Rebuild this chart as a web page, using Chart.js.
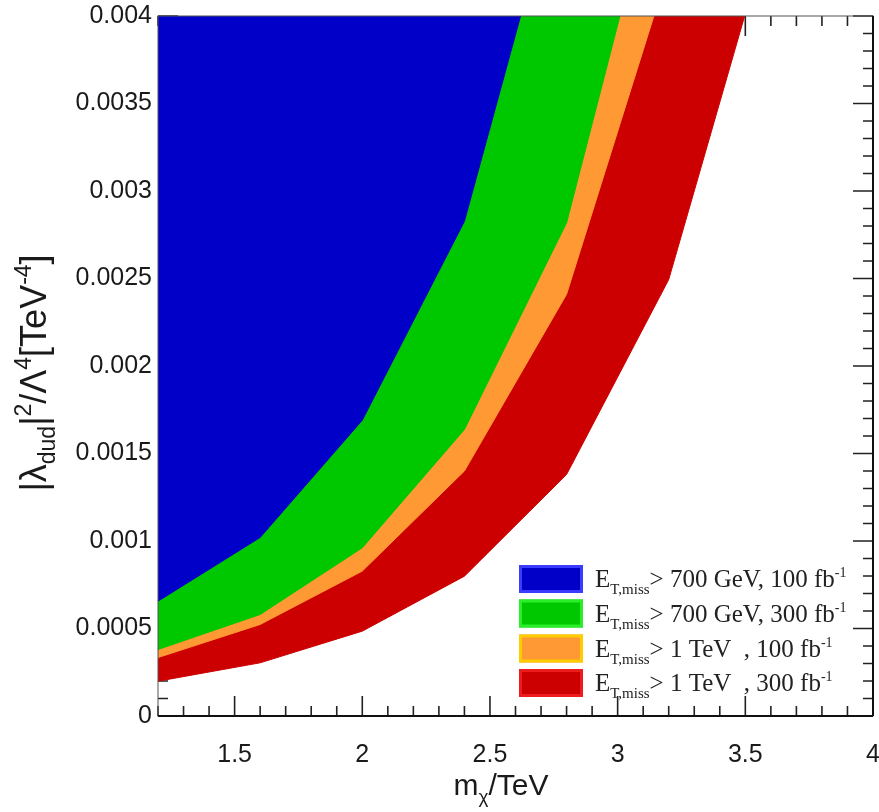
<!DOCTYPE html>
<html>
<head>
<meta charset="utf-8">
<script src="https://cdn.jsdelivr.net/npm/chart.js@4.4.1/dist/chart.umd.min.js"></script>
<style>
  html, body { margin: 0; padding: 0; background: #fff; }
  #wrap { width: 879px; height: 812px; position: relative; }
</style>
</head>
<body>
<div id="wrap"><canvas id="limitChart"></canvas></div>
<script>
// mass points (TeV) and sensitivity curves
const massTeV = [1.2, 1.6, 2.0, 2.4, 2.8, 3.2, 3.6];
const blue700_100 = [0.000656, 0.00102, 0.00169, 0.002827, 0.00496];
const green700_300 = [0.00038, 0.00058, 0.000961, 0.001637, 0.002818, 0.00508];
const orange1T_100 = [0.000334, 0.000523, 0.000828, 0.0014, 0.00241, 0.00427];
const red1T_300 = [0.000199, 0.000304, 0.000485, 0.000799, 0.00138, 0.002494, 0.00452];

const xRange = [1.2, 4];
const yRange = [0, 0.004];

const legendCuts = ['700 GeV, 100 fb', '700 GeV, 300 fb', '1 TeV  , 100 fb', '1 TeV  , 300 fb'];

const fillColors = ['rgb(0,0,200)', 'rgb(0,200,0)', 'rgb(255,153,51)', 'rgb(204,0,0)'];
const boxBorders = ['#3c3cff', '#2aee2a', '#ffcc00', '#ee1c1c'];

const tickFont = '"Liberation Sans", Arial, Helvetica, sans-serif';
const serifFont = '"Liberation Serif", "Times New Roman", serif';

function toPoints(values) {
    return values.map((v, i) => ({ x: massTeV[i], y: v }));
}

function bandDataset(label, values, color) {
    return {
        label: label,
        data: toPoints(values),
        backgroundColor: color,
        borderColor: color,
        borderWidth: 1,
        pointRadius: 0,
        tension: 0,
        fill: 'end'
    };
}

// inward ticks on all four sides, drawn under the filled bands
const frameTicks = {
    id: 'frameTicks',
    beforeDatasetsDraw(chart) {
        const { ctx, chartArea: a, scales: { x, y } } = chart;
        ctx.save();
        ctx.strokeStyle = '#222';
        ctx.lineWidth = 1.6;
        ctx.beginPath();
        for (let k = 12; k <= 40; k++) {
            const px = x.getPixelForValue(k / 10);
            const len = k % 5 === 0 ? 20 : 10;
            ctx.moveTo(px, a.bottom); ctx.lineTo(px, a.bottom - len);
            ctx.moveTo(px, a.top); ctx.lineTo(px, a.top + len);
        }
        for (let k = 0; k <= 40; k++) {
            const py = y.getPixelForValue(k / 10000);
            const len = k % 5 === 0 ? 20 : 10;
            ctx.moveTo(a.left, py); ctx.lineTo(a.left + len, py);
            ctx.moveTo(a.right, py); ctx.lineTo(a.right - len, py);
        }
        ctx.stroke();
        ctx.restore();
    },
    afterDatasetsDraw(chart) {
        const { ctx, chartArea: a } = chart;
        ctx.save();
        ctx.strokeStyle = '#555';
        ctx.lineWidth = 1;
        ctx.strokeRect(a.left, a.top, a.right - a.left, a.bottom - a.top);
        ctx.strokeStyle = '#111';
        ctx.lineWidth = 2;
        ctx.beginPath();
        ctx.moveTo(a.left, a.bottom); ctx.lineTo(a.right, a.bottom);
        ctx.moveTo(a.right, a.top); ctx.lineTo(a.right, a.bottom);
        ctx.stroke();
        ctx.restore();
    }
};

// draw a run of [text, size, shift] pieces, shift > 0 moves it down
function drawRich(ctx, parts, x, y, family) {
    let cx = x;
    parts.forEach(([txt, size, shift]) => {
        ctx.font = size + 'px ' + family;
        ctx.fillText(txt, cx, y + shift);
        cx += ctx.measureText(txt).width;
    });
    return cx;
}
function richWidth(ctx, parts, family) {
    let w = 0;
    parts.forEach(([txt, size]) => {
        ctx.font = size + 'px ' + family;
        w += ctx.measureText(txt).width;
    });
    return w;
}

const titlesAndLegend = {
    id: 'titlesAndLegend',
    afterDraw(chart) {
        const { ctx } = chart;
        ctx.save();
        ctx.fillStyle = '#1a1a1a';
        ctx.textBaseline = 'alphabetic';
        ctx.textAlign = 'left';

        // x title: m_chi / TeV
        const xParts = [['m', 30, 0], ['\u03c7', 19, 8], ['/TeV', 30, 0]];
        const xw = richWidth(ctx, xParts, tickFont);
        drawRich(ctx, xParts, 501 - xw / 2, 795, tickFont);

        // y title, rotated
        const yParts = [['|\u03bb', 36, 0], ['dud', 23, 9], ['|', 36, 0], ['2', 23, -15],
                        ['/\u039b', 36, 0], ['4', 23, -15], ['[TeV', 36, 0], ['-4', 23, -15], [']', 36, 0]];
        const yw = richWidth(ctx, yParts, tickFont);
        ctx.save();
        ctx.translate(46, 373);
        ctx.rotate(-Math.PI / 2);
        drawRich(ctx, yParts, -yw / 2, 0, tickFont);
        ctx.restore();

        // legend
        const rowY = [579, 613.5, 648.5, 683];
        legendCuts.forEach((cut, i) => {
            ctx.fillStyle = fillColors[i];
            ctx.fillRect(519, rowY[i] - 14, 64, 28);
            ctx.strokeStyle = boxBorders[i];
            ctx.lineWidth = 3;
            ctx.strokeRect(520.5, rowY[i] - 12.5, 61, 25);
            ctx.fillStyle = '#222';
            drawRich(ctx, [['E', 25, 0], ['T,miss', 15, 7], ['> ' + cut, 25, 0], ['-1', 14, -10]],
                     595, rowY[i] + 8, serifFont);
        });
        ctx.restore();
    }
};

const ctx = document.getElementById('limitChart').getContext('2d');
new Chart(ctx, {
    type: 'line',
    data: {
        datasets: [
            bandDataset('E_T,miss > 700 GeV, 100 fb-1', blue700_100, fillColors[0]),
            bandDataset('E_T,miss > 700 GeV, 300 fb-1', green700_300, fillColors[1]),
            bandDataset('E_T,miss > 1 TeV, 100 fb-1', orange1T_100, fillColors[2]),
            bandDataset('E_T,miss > 1 TeV, 300 fb-1', red1T_300, fillColors[3])
        ]
    },
    options: {
        responsive: true,
        maintainAspectRatio: false,
        animation: false,
        layout: { padding: { top: 16, right: 6, left: 0, bottom: 0 } },
        scales: {
            x: {
                type: 'linear',
                min: xRange[0],
                max: xRange[1],
                afterFit(scale) {
                    scale.height = 96;
                    scale.paddingLeft = 0;
                    scale.paddingRight = 0;
                },
                afterBuildTicks(scale) {
                    scale.ticks = scale.ticks.filter(t => Math.abs(t.value * 2 - Math.round(t.value * 2)) < 1e-9);
                },
                ticks: {
                    stepSize: 0.5,
                    padding: 24,
                    maxRotation: 0,
                    color: '#1a1a1a',
                    font: { family: tickFont, size: 25 },
                    callback: v => String(parseFloat(v.toFixed(3)))
                },
                grid: { display: false, drawTicks: false },
                border: { display: false }
            },
            y: {
                type: 'linear',
                min: yRange[0],
                max: yRange[1],
                afterFit(scale) {
                    scale.width = 158;
                    scale.paddingTop = 0;
                    scale.paddingBottom = 0;
                },
                ticks: {
                    stepSize: 0.0005,
                    padding: 6,
                    color: '#1a1a1a',
                    font: { family: tickFont, size: 25 },
                    callback: v => String(parseFloat(v.toFixed(6)))
                },
                grid: { display: false, drawTicks: false },
                border: { display: false }
            }
        },
        plugins: {
            legend: { display: false },
            tooltip: { enabled: false }
        }
    },
    plugins: [frameTicks, titlesAndLegend]
});
</script>
</body>
</html>
